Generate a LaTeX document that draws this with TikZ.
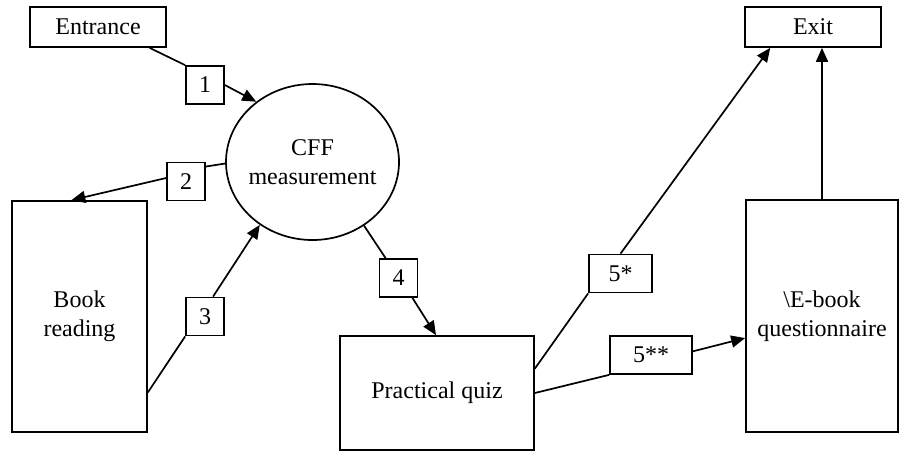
\documentclass[tikz,border=0pt]{standalone}
\usepackage{fontspec}
\setmainfont{Liberation Serif}
\usetikzlibrary{shapes.geometric,arrows.meta}

\begin{document}
\begin{tikzpicture}[x=0.5pt,y=-0.5pt,line width=0.85pt,
    font=\fontsize{12}{14.5}\selectfont,
    >={Triangle[length=7pt,width=6pt]},
    stage/.style={draw,rectangle,inner sep=0pt,align=center},
    num/.style={draw,rectangle,inner sep=0pt,minimum width=19pt,minimum height=19pt}]
    \useasboundingbox (0,0) rectangle (899,452);

    \node[stage,minimum width=68pt,minimum height=20pt] (entrance) at (98,27) {Entrance};
    \node[stage,minimum width=68pt,minimum height=20pt] (exit) at (813,27) {Exit};
    \node[draw,ellipse,inner xsep=-10pt,inner ysep=0pt,align=center,minimum width=86.5pt,minimum height=78pt] (cff) at (312.5,162) {CFF\\measurement};
    \node[stage,minimum width=67.5pt,minimum height=115.5pt] (book) at (79.5,316.5) {Book\\reading};
    \node[stage,minimum width=97pt,minimum height=57pt] (quiz) at (437,393) {Practical quiz};
    \node[stage,minimum width=76pt,minimum height=116pt] (ebook) at (822,316) {\textbackslash E-book\\questionnaire};

    \node[num] (n1) at (205,85) {1};
    \node[num] (n2) at (186,181.5) {2};
    \node[num] (n3) at (205,316.5) {3};
    \node[num] (n4) at (398.5,278) {4};
    \node[num,minimum width=31.5pt] (n5a) at (620.5,273.5) {5*};
    \node[num,minimum width=41pt] (n5b) at (651,355) {5**};

    \draw (entrance.-22) -- (n1.north west);
    \draw[->] (n1.east) -- (cff.133);
    \draw (cff.181) -- (n2.37);
    \draw[->] (n2.170) -- (book.94);
    \draw (book.-48.6) -- (n3.south west);
    \draw[->] (n3.68) -- (cff.230);
    \draw (cff.-51) -- (n4.123);
    \draw[->] (n4.-55) -- (quiz.91);
    \draw (quiz.14) -- (n5a.south west);
    \draw[->] (n5a.north) -- (exit.206.6);
    \draw (quiz.east) -- (n5b.south west);
    \draw[->] (n5b.5) -- (ebook.196);
    \draw[->] (ebook.north) -- (ebook.north |- exit.south);
\end{tikzpicture}
\end{document}
